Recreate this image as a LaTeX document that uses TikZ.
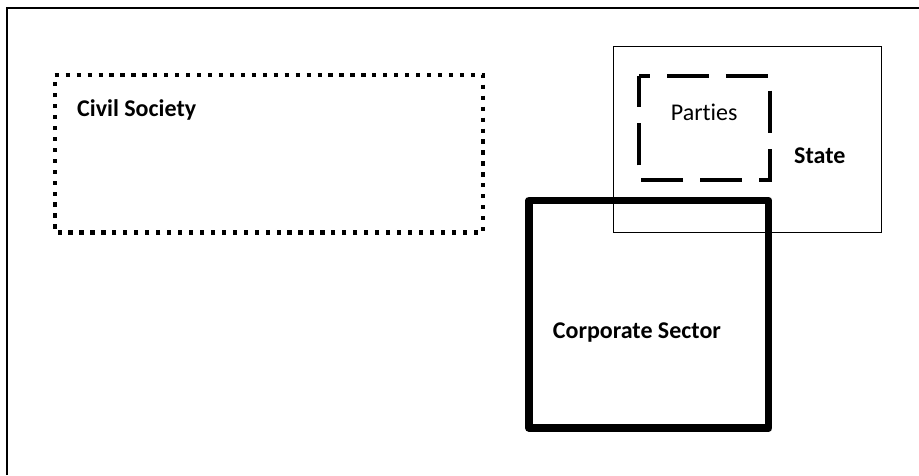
\documentclass[tikz,border=0pt]{standalone}
\usepackage{fontspec}
\setmainfont{Carlito}[RawFeature={-liga}]
\begin{document}
\begin{tikzpicture}[x=1pt,y=-1pt,
  frameline/.style={line width=2pt, black},
  civilbox/.style={line width=4.3pt, dash pattern=on 4.2pt off 6.75pt},
  partybox/.style={line width=4pt, dash pattern=on 42pt off 16.75pt, dash phase=30.7pt},
  statebox/.style={line width=1pt},
  corpbox/.style={line width=7.5pt, line join=round},
  lbl/.style={inner sep=0pt, anchor=base west, font=\fontsize{24}{28}\selectfont},
  blbl/.style={lbl, font=\fontsize{24}{28}\selectfont\bfseries}]
\useasboundingbox (0,0) rectangle (919,475);
% outer frame (only top and left edges visible)
\draw[frameline] (7,475) -- (7,8) -- (919,8);
% Civil Society
\draw[civilbox] (54.7,75.3) -- (483.3,75.3) -- (483.3,232.5) -- (54.7,232.5) -- cycle;
\node[blbl] (civil) at (77,116.7) {Civil Society};
% State
\draw[statebox] (613.3,46.7) rectangle (881,232.3);
\node[blbl] (state) at (794,163) {State};
% Parties
\draw[partybox] (639,76) -- (770,76) -- (770,180) -- (639,180) -- cycle;
\node[lbl] (parties) at (670.7,120.7) {Parties};
% Corporate Sector
\draw[corpbox] (528.8,200.5) rectangle (768.7,428);
\node[blbl] (corp) at (552.7,338.3) {Corporate Sector};
\end{tikzpicture}
\end{document}
